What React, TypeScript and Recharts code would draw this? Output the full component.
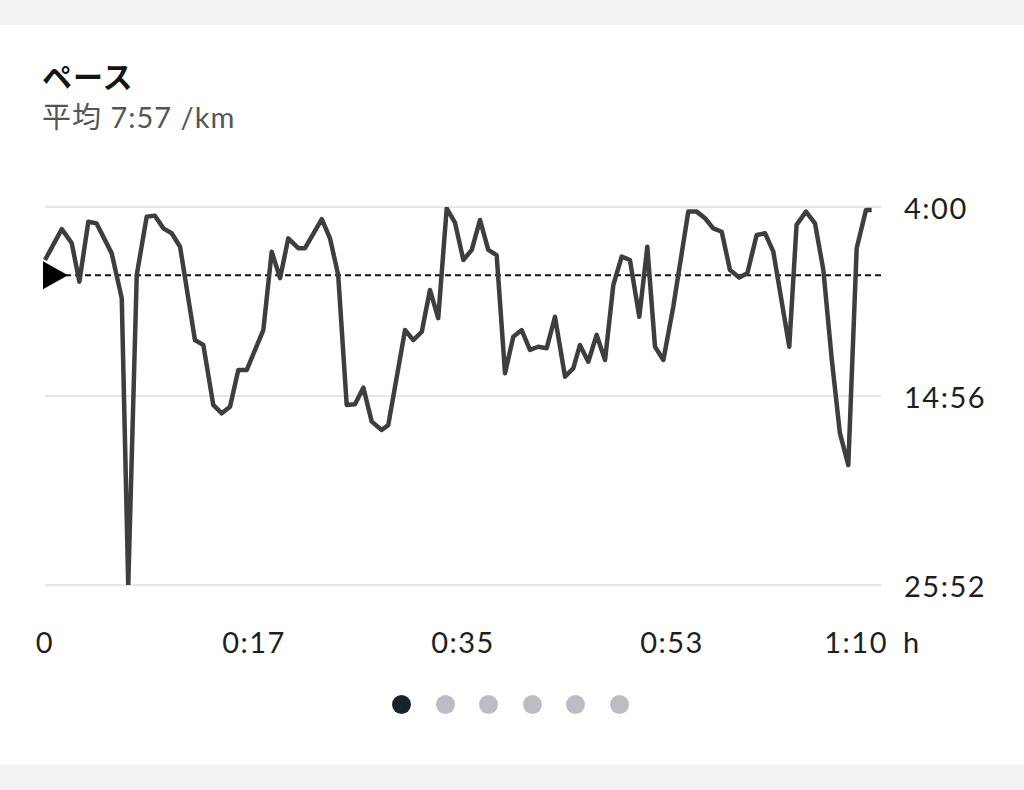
import React from "react";
import { LineChart, Line, XAxis, YAxis, CartesianGrid, ReferenceLine } from "recharts";

// elapsed time (minutes)
const TIME_MIN = [
  0, 1.42, 2.26, 2.91, 3.67, 4.37, 5.65, 6.5, 7.05, 7.77, 8.61, 9.31, 10.02, 10.73, 11.44,
  12.7, 13.41, 14.25, 14.97, 15.67, 16.37, 17.08, 18.49, 19.2, 19.91, 20.6, 21.45, 22.02,
  23.44, 24.14, 24.83, 25.55, 26.25, 26.96, 27.67, 28.51, 29.07, 30.49, 31.19, 31.91, 32.6,
  33.3, 34.02, 34.72, 35.43, 36.14, 36.84, 37.54, 38.25, 38.96, 39.66, 40.37, 41.07, 41.77,
  42.49, 43.19, 44.04, 44.74, 45.3, 46.01, 46.72, 47.43, 48.13, 48.84, 49.54, 50.33, 51.01,
  51.66, 52.37, 53.21, 54.48, 55.19, 55.9, 56.59, 57.31, 58.01, 58.79, 59.48, 60.27, 60.98,
  61.68, 63.03, 63.65, 64.45, 65.21, 65.92, 66.62, 67.32, 68.03, 68.74, 69.53, 70.01,
];
// pace (seconds per km)
const PACE_SEC = [
  424, 317, 365, 499, 291, 297, 401, 557, 1552, 476, 274, 270, 314, 331, 378,
  702, 719, 927, 956, 933, 806, 806, 667, 395, 487, 349, 383, 383,
  282, 349, 476, 927, 925, 867, 985, 1014, 997, 667, 702, 673, 528,
  626, 245, 294, 424, 389, 285, 389, 407, 817, 690, 667, 736, 725,
  730, 621, 829, 800, 719, 777, 684, 771, 511, 412, 424, 621, 378,
  725, 771, 586, 256, 256, 279, 314, 326, 459, 485, 470, 337, 331,
  395, 725, 302, 256, 297, 459, 765, 1025, 1136, 383, 250, 250,
];
const Y_TICKS = [240, 896, 1552];
const AVG_PACE = 477;
const TOTAL_MIN = 70.8;
const X_TICKS = [0, TOTAL_MIN / 4, TOTAL_MIN / 2, (TOTAL_MIN * 3) / 4, TOTAL_MIN];
const X_LABELS = ["0", "0:17", "0:35", "0:53", "1:10"];
const PAGE_DOTS = [0, 1, 2, 3, 4, 5];

const data = TIME_MIN.map((t, i) => ({ t, pace: PACE_SEC[i] }));

const FONT = 'Lato, "Noto Sans CJK JP", sans-serif';

const fmtPace = (s: number) => {
  const m = Math.floor(s / 60);
  const sec = Math.round(s - m * 60);
  return `${m}:${sec < 10 ? "0" : ""}${sec}`;
};

const tickStyle = { fontSize: 29, fill: "#1e1e1e", fontFamily: FONT, letterSpacing: 1.5 };

const YTick = (props: any) => {
  const { x, y, payload } = props;
  return (
    <text x={x} y={y} textAnchor="start" dominantBaseline="central" {...tickStyle}>
      {fmtPace(payload.value)}
    </text>
  );
};

const XTick = (props: any) => {
  const { x, y, index } = props;
  const last = index === X_TICKS.length - 1;
  return (
    <g>
      <text
        x={last ? x + 7 : x}
        y={y}
        textAnchor={last ? "end" : "middle"}
        dominantBaseline="central"
        {...tickStyle}
      >
        {X_LABELS[index]}
      </text>
      {last && (
        <text x={x + 22} y={y} textAnchor="start" dominantBaseline="central" {...tickStyle}>
          h
        </text>
      )}
    </g>
  );
};

const AvgMarker = (props: any) => {
  const vb = props.viewBox;
  const x = vb.x;
  const y = vb.y;
  return <polygon points={`${x - 2},${y - 14} ${x + 23},${y} ${x - 2},${y + 14}`} fill="#000" />;
};

export default function App() {
  return (
    <div style={{ position: "absolute", left: 0, top: 0, width: 1024, height: 790, background: "#ffffff", fontFamily: FONT, overflow: "hidden" }}>
      <div style={{ position: "absolute", left: 0, top: 0, width: 1024, height: 25, background: "#f2f2f4" }} />
      <div style={{ position: "absolute", left: 0, top: 765, width: 1024, height: 25, background: "#f2f2f4" }} />
      <div style={{ position: "absolute", left: 42, top: 56, fontSize: 30, fontWeight: 700, color: "#151515", lineHeight: "40px", letterSpacing: 1 }}>ペース</div>
      <div style={{ position: "absolute", left: 42, top: 97, fontSize: 29, color: "#555", lineHeight: "40px", letterSpacing: 1 }}>平均 7:57 /km</div>
      <div style={{ position: "absolute", left: 0, top: 0 }}>
        <LineChart width={1024} height={680} data={data} margin={{ top: 207, right: 23, bottom: 35, left: 45 }}>
          <CartesianGrid horizontal={true} vertical={false} stroke="#e6e6ea" strokeWidth={2} />
          <XAxis
            dataKey="t"
            type="number"
            domain={[0, TOTAL_MIN]}
            ticks={X_TICKS}
            height={60}
            axisLine={false}
            tickLine={false}
            tickSize={0}
            tickMargin={56}
            tick={<XTick />}
            interval={0}
          />
          <YAxis
            orientation="right"
            type="number"
            domain={[240, 1552]}
            ticks={Y_TICKS}
            reversed
            width={120}
            axisLine={false}
            tickLine={false}
            tickSize={0}
            tickMargin={23}
            tick={<YTick />}
            interval={0}
            allowDataOverflow
          />
          <ReferenceLine y={AVG_PACE} stroke="#111" strokeWidth={2} strokeDasharray="6 4" label={<AvgMarker />} />
          <Line
            type="linear"
            dataKey="pace"
            stroke="#3e3e3e"
            strokeWidth={4.5}
            dot={false}
            strokeLinejoin="round"
            isAnimationActive={false}
          />
        </LineChart>
      </div>
      <div style={{ position: "absolute", left: 392, top: 695, display: "flex", gap: 24.6 }}>
        {PAGE_DOTS.map((d) => (
          <div key={d} style={{ width: 19, height: 19, borderRadius: "50%", background: d === 0 ? "#17242a" : "#bcbdc4" }} />
        ))}
      </div>
    </div>
  );
}
